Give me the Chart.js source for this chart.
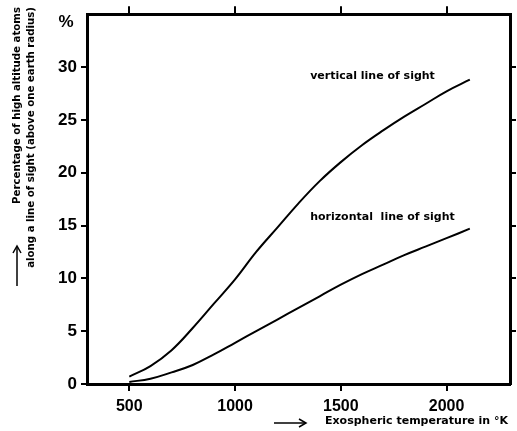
<!DOCTYPE html>
<html><head><meta charset="utf-8">
<script src="https://cdn.jsdelivr.net/npm/chart.js@4"></script>
<style>html,body{margin:0;padding:0;background:#fff}#wrap{width:517px;height:431px}</style>
</head><body><div id="wrap"><canvas id="c" width="517" height="431"></canvas></div>
<script>
const temps = [500,600,700,800,900,1000,1100,1200,1300,1400,1500,1600,1700,1800,1900,2000,2110];
const verticalPct = [0.7,1.7,3.2,5.3,7.6,9.9,12.5,14.8,17.1,19.2,21.0,22.6,24.0,25.3,26.5,27.7,28.8];
const horizontalPct = [0.2,0.5,1.1,1.8,2.8,3.9,5.0,6.1,7.2,8.3,9.4,10.4,11.3,12.2,13.0,13.8,14.7];
const xTicks = [500,1000,1500,2000];
const yTicks = [0,5,10,15,20,25,30];
const seriesLabels = ['vertical line of sight','horizontal  line of sight'];
const yTitle = ['Percentage of high altitude atoms','along a line of sight (above one earth radius)'];
const xTitle = 'Exospheric temperature in °K';

const FONT = '"Liberation Sans", Arial, sans-serif';
const SMALL = '"DejaVu Sans", sans-serif';
const pts = arr => temps.map((t,i)=>({x:t,y:arr[i]}));

const annot = {
  id:'annot',
  afterDraw(chart){
    const ctx = chart.ctx, xs = chart.scales.x, ys = chart.scales.y;
    ctx.save();
    ctx.fillStyle='#000'; ctx.strokeStyle='#000';
    ctx.font = 'bold 17px '+FONT;
    ctx.textAlign='center'; ctx.textBaseline='middle';
    ctx.fillText('%', 66, 22);
    ctx.font = 'bold 11px '+SMALL;
    ctx.textAlign='left'; ctx.textBaseline='middle';
    ctx.fillText(seriesLabels[0], xs.getPixelForValue(1355), ys.getPixelForValue(29.1));
    ctx.fillText(seriesLabels[1], xs.getPixelForValue(1355), ys.getPixelForValue(15.8));
    ctx.font = 'bold 10.2px '+SMALL;
    ctx.save();
    ctx.translate(17, 7); ctx.rotate(-Math.PI/2);
    ctx.textAlign='right'; ctx.textBaseline='middle';
    ctx.fillText(yTitle[0], 0, 0);
    ctx.restore();
    ctx.save();
    ctx.translate(31, 7); ctx.rotate(-Math.PI/2);
    ctx.textAlign='right'; ctx.textBaseline='middle';
    ctx.fillText(yTitle[1], 0, 0);
    ctx.restore();
    ctx.lineWidth=1.5;
    ctx.beginPath(); ctx.moveTo(17,286); ctx.lineTo(17,247); ctx.stroke();
    ctx.beginPath(); ctx.moveTo(13,253); ctx.lineTo(17,246); ctx.lineTo(21,253); ctx.stroke();
    ctx.font = 'bold 11px '+SMALL;
    ctx.textAlign='left'; ctx.textBaseline='middle';
    ctx.fillText(xTitle, 325, 421);
    ctx.beginPath(); ctx.moveTo(274,423); ctx.lineTo(305,423); ctx.stroke();
    ctx.beginPath(); ctx.moveTo(299,419); ctx.lineTo(306,423); ctx.lineTo(299,427); ctx.stroke();
    ctx.restore();
  }
};

const tickSet = vals => (scale => { scale.ticks = vals.map(v=>({value:v})); });

new Chart(document.getElementById('c'), {
  type:'line',
  data:{datasets:[
    {label:seriesLabels[0], data:pts(verticalPct), borderColor:'#000', borderWidth:2, pointRadius:0, tension:0.4, fill:false},
    {label:seriesLabels[1], data:pts(horizontalPct), borderColor:'#000', borderWidth:2, pointRadius:0, tension:0.4, fill:false}
  ]},
  options:{
    responsive:false, animation:false, devicePixelRatio:1,
    layout:{padding:0},
    plugins:{legend:{display:false}, tooltip:{enabled:false}},
    scales:{
      x:{type:'linear', position:'bottom', min:300, max:2300,
        afterBuildTicks: tickSet(xTicks),
        afterFit(s){ s.height = 47; },
        border:{color:'#000', width:3},
        grid:{drawOnChartArea:false, color:'#000', lineWidth:2, tickLength:7},
        ticks:{color:'#000', font:{family:FONT, size:16, weight:'bold'}, padding:6, callback:v=>String(v)}
      },
      x2:{type:'linear', position:'top', min:300, max:2300,
        afterBuildTicks: tickSet(xTicks),
        afterFit(s){ s.height = 13; },
        border:{color:'#000', width:3},
        grid:{drawOnChartArea:false, color:'#000', lineWidth:2, tickLength:8},
        ticks:{display:false}
      },
      y:{type:'linear', position:'left', min:0, max:35,
        afterBuildTicks: tickSet(yTicks),
        afterFit(s){ s.width = 87; },
        border:{color:'#000', width:3},
        grid:{drawOnChartArea:false, color:'#000', lineWidth:2, tickLength:6},
        ticks:{color:'#000', font:{family:FONT, size:17, weight:'bold'}, padding:4, callback:v=>String(v)}
      },
      y2:{type:'linear', position:'right', min:0, max:35,
        afterBuildTicks: tickSet(yTicks.slice(1)),
        afterFit(s){ s.width = 7; },
        border:{color:'#000', width:3},
        grid:{drawOnChartArea:false, color:'#000', lineWidth:2, tickLength:6},
        ticks:{display:false}
      }
    }
  },
  plugins:[annot]
});
</script></body></html>
